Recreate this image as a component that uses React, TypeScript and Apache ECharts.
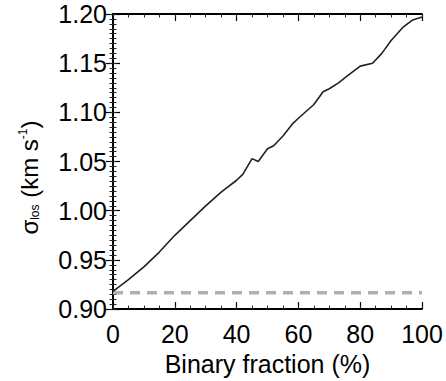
import React, { useEffect, useRef } from "react";
import * as echarts from "echarts";

const binaryFraction = [0, 5, 10, 15, 20, 25, 30, 35, 40, 42, 45, 47, 50, 52, 55, 58, 60, 65, 68, 70, 73, 75, 80, 84, 87, 90, 94, 97, 100];
const sigmaLos = [0.918, 0.930, 0.943, 0.958, 0.975, 0.990, 1.005, 1.019, 1.031, 1.037, 1.053, 1.050, 1.063, 1.066, 1.076, 1.088, 1.094, 1.108, 1.121, 1.124, 1.130, 1.135, 1.147, 1.150, 1.160, 1.173, 1.187, 1.194, 1.197];
const dashedX = [0, 100];
const dashedY = [0.9165, 0.9165];
const xTicks = [0, 20, 40, 60, 80, 100];
const yTicks = [0.9, 0.95, 1.0, 1.05, 1.1, 1.15, 1.2];

const FONT = "Liberation Sans";
const X_MIN = xTicks[0];
const X_MAX = xTicks[xTicks.length - 1];
const Y_MIN = yTicks[0];
const Y_MAX = yTicks[yTicks.length - 1];

export default function App() {
  const ref = useRef<HTMLDivElement>(null);
  useEffect(() => {
    document.body.style.margin = "0";
    if (!ref.current) return;
    const chart = echarts.init(ref.current, null, { renderer: "svg" });
    const axisLine = { show: true, lineStyle: { color: "#000", width: 1.8 } };
    const tick = { show: true, inside: true, length: 7, lineStyle: { color: "#000", width: 1.2 } };
    const minorTick = { show: true, inside: true, length: 3.5, lineStyle: { color: "#222", width: 1 } };
    const minorX = (position: string) => ({
      type: "value",
      min: X_MIN,
      max: X_MAX,
      interval: 5,
      position,
      axisLine: { show: false },
      axisTick: minorTick,
      splitLine: { show: false },
      axisLabel: { show: false },
    });
    const minorY = (position: string) => ({
      type: "value",
      min: Y_MIN,
      max: Y_MAX,
      interval: 0.005,
      position,
      axisLine: { show: false },
      axisTick: minorTick,
      splitLine: { show: false },
      axisLabel: { show: false },
    });
    chart.setOption({
      animation: false,
      backgroundColor: "#fff",
      grid: { left: 113, right: 24, top: 14, bottom: 68 },
      xAxis: [
        {
          type: "value",
          min: X_MIN,
          max: X_MAX,
          interval: 20,
          position: "bottom",
          axisLine,
          axisTick: tick,
          splitLine: { show: false },
          axisLabel: { color: "#000", fontFamily: FONT, fontSize: 25, margin: 12 },
          name: "Binary fraction (%)",
          nameLocation: "middle",
          nameGap: 34,
          nameTextStyle: { color: "#000", fontFamily: FONT, fontSize: 25 },
        },
        {
          type: "value",
          min: X_MIN,
          max: X_MAX,
          interval: 20,
          position: "top",
          axisLine,
          axisTick: tick,
          splitLine: { show: false },
          axisLabel: { show: false },
        },
        minorX("bottom"),
        minorX("top"),
      ],
      yAxis: [
        {
          type: "value",
          min: Y_MIN,
          max: Y_MAX,
          interval: 0.05,
          position: "left",
          axisLine,
          axisTick: tick,
          splitLine: { show: false },
          axisLabel: {
            color: "#000",
            fontFamily: FONT,
            fontSize: 25,
            margin: 6,
            formatter: (v: number) => v.toFixed(2),
          },
          name: "{s|σ}{sub|los} {n|(km s}{sup|-1}{n|)}",
          nameLocation: "middle",
          nameRotate: 90,
          nameGap: 72,
          nameTextStyle: {
            color: "#000",
            fontFamily: FONT,
            fontSize: 24,
            padding: [0, 32, 0, 0],
            rich: {
              s: { fontFamily: FONT, fontSize: 24, color: "#000" },
              n: { fontFamily: FONT, fontSize: 24, color: "#000" },
              sub: { fontFamily: FONT, fontSize: 12, color: "#000", verticalAlign: "bottom", padding: [12, 0, 0, 0] },
              sup: { fontFamily: FONT, fontSize: 12, color: "#000", verticalAlign: "top", padding: [0, 0, 12, 0] },
            },
          },
        },
        {
          type: "value",
          min: Y_MIN,
          max: Y_MAX,
          interval: 0.05,
          position: "right",
          axisLine,
          axisTick: tick,
          splitLine: { show: false },
          axisLabel: { show: false },
        },
        minorY("left"),
        minorY("right"),
      ],
      series: [
        {
          type: "line",
          data: dashedX.map((x, i) => [x, dashedY[i]]),
          showSymbol: false,
          lineStyle: { color: "#b0b0b0", width: 3.5, type: [10, 7] },
          silent: true,
        },
        {
          type: "line",
          data: binaryFraction.map((x, i) => [x, sigmaLos[i]]),
          showSymbol: false,
          lineStyle: { color: "#222", width: 1.6 },
          silent: true,
        },
      ],
    });
    return () => chart.dispose();
  }, []);
  return <div ref={ref} style={{ width: 446, height: 381 }} />;
}
